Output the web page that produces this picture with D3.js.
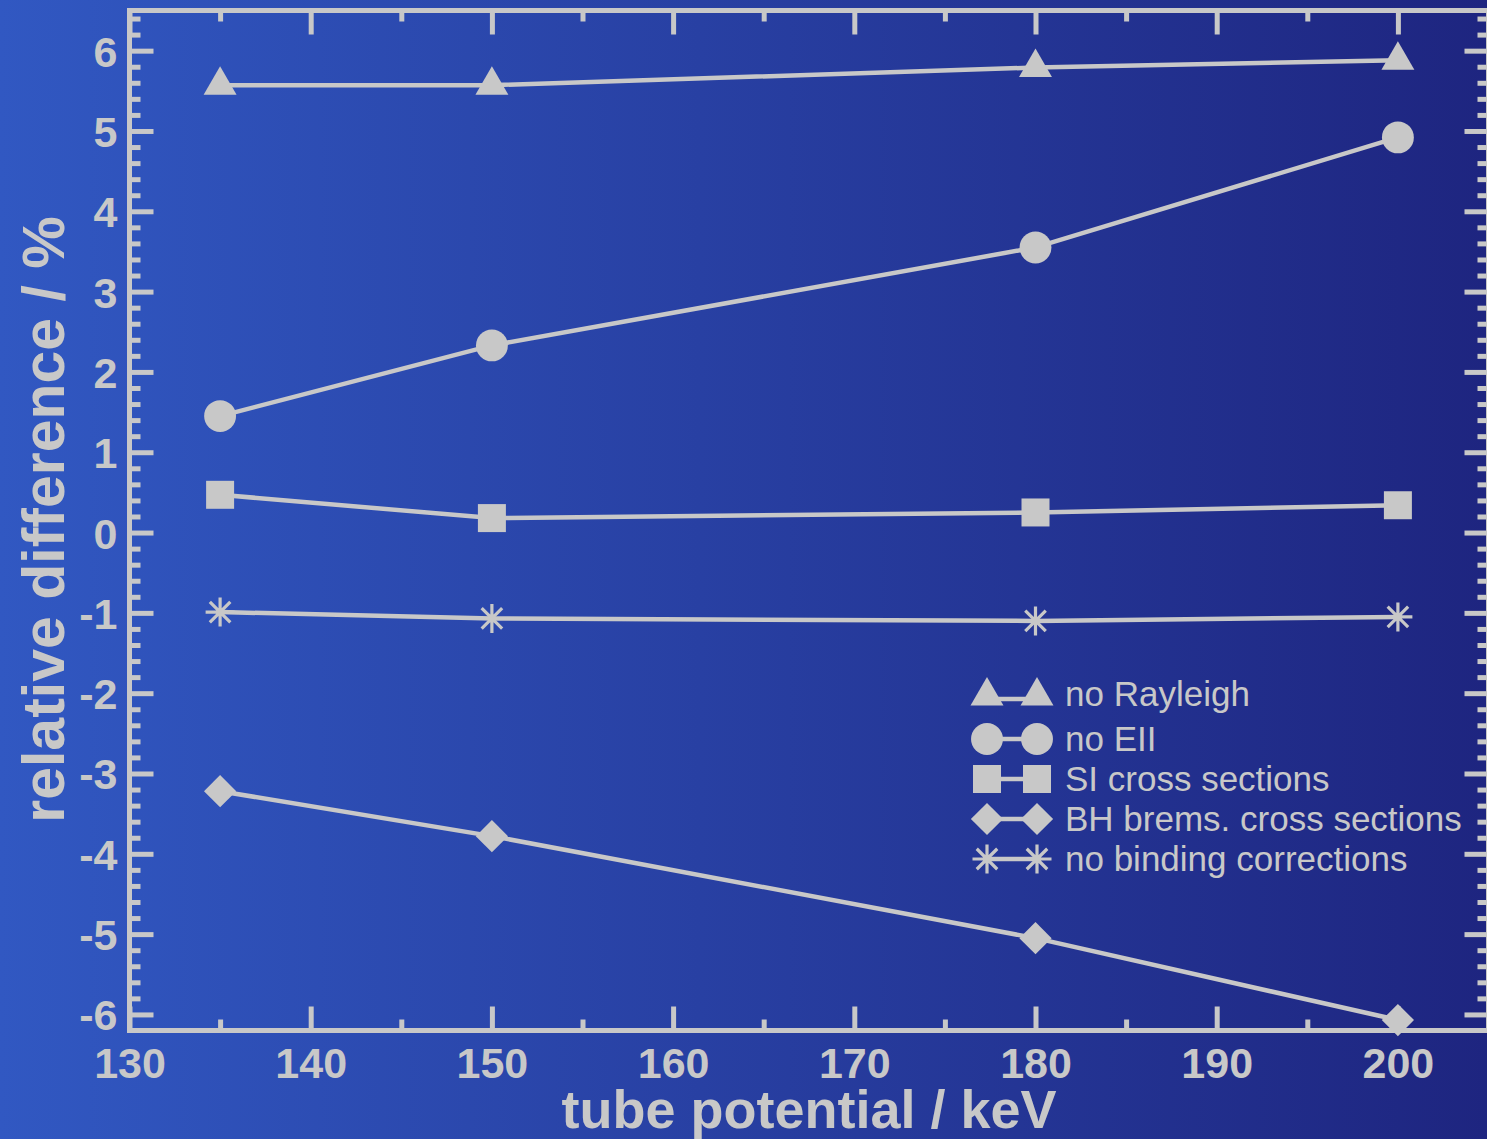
<!DOCTYPE html>
<html>
<head>
<meta charset="utf-8">
<script src="https://cdn.jsdelivr.net/npm/d3@7"></script>
<style>
  html, body { margin: 0; padding: 0; overflow: hidden; }
  svg { display: block; }
</style>
</head>
<body>
<svg id="chart" width="1487" height="1139"></svg>
<script>
// Tube potentials (keV)
const potentials = [135, 150, 180, 200];

// Relative difference (%) for each modification of the simulation
const noRayleigh      = [5.57, 5.57, 5.79, 5.88];
const noEII           = [1.45, 2.33, 3.55, 4.92];
const siCross         = [0.47, 0.18, 0.25, 0.34];
const bhBrems         = [-3.22, -3.78, -5.05, -6.07];
const noBinding       = [-0.99, -1.07, -1.10, -1.05];

const seriesNames  = ["no Rayleigh", "no EII", "SI cross sections", "BH brems. cross sections", "no binding corrections"];
const seriesValues = [noRayleigh, noEII, siCross, bhBrems, noBinding];
const seriesMarks  = ["triangle", "circle", "square", "diamond", "asterisk"];

const xTicks = [130, 140, 150, 160, 170, 180, 190, 200];
const yTicks = [-6, -5, -4, -3, -2, -1, 0, 1, 2, 3, 4, 5, 6];

const xTitle = "tube potential / keV";
const yTitle = "relative difference / %";

const W = 1487, H = 1139;
const fg = "#c8c8c8";

const svg = d3.select("#chart");

// background gradient
const defs = svg.append("defs");
const grad = defs.append("linearGradient").attr("id", "bg")
  .attr("x1", "0%").attr("y1", "0%").attr("x2", "100%").attr("y2", "0%");
grad.append("stop").attr("offset", "0%").attr("stop-color", "#3158c2");
grad.append("stop").attr("offset", "100%").attr("stop-color", "#1e2580");
svg.append("rect").attr("width", W).attr("height", H).attr("fill", "url(#bg)");

const x = d3.scaleLinear().domain([130, 205]).range([129.5, 1488.5]);
const y = d3.scaleLinear().domain([-6.2, 6.5]).range([1030.5, 10.5]);

const font = "'Liberation Sans', Arial, Helvetica, sans-serif";
const plainNum = d => String(d);

function styleAxis(g) {
  g.select(".domain").remove();
  g.selectAll("line").attr("stroke", fg).attr("stroke-width", 5);
  g.selectAll("text").attr("fill", fg).attr("font-family", font)
    .attr("font-weight", "bold").attr("font-size", 43);
}

const xMinor = d3.range(135, 205, 10);
const yMinor = d3.range(-6.0, 6.45, 0.2).map(v => Math.round(v * 10) / 10)
  .filter(v => Math.abs(v - Math.round(v)) > 1e-6);

// bottom axis
svg.append("g").attr("transform", `translate(0,${y(-6.2)})`)
  .call(d3.axisBottom(x).tickValues(xTicks).tickSize(-24).tickSizeOuter(0).tickPadding(17).tickFormat(plainNum))
  .call(styleAxis);
svg.append("g").attr("transform", `translate(0,${y(-6.2)})`)
  .call(d3.axisBottom(x).tickValues(xMinor).tickSize(-11).tickSizeOuter(0).tickFormat(""))
  .call(styleAxis);
// top axis
svg.append("g").attr("transform", `translate(0,${y(6.5)})`)
  .call(d3.axisTop(x).tickValues(xTicks).tickSize(-24).tickSizeOuter(0).tickFormat(""))
  .call(styleAxis);
svg.append("g").attr("transform", `translate(0,${y(6.5)})`)
  .call(d3.axisTop(x).tickValues(xMinor).tickSize(-11).tickSizeOuter(0).tickFormat(""))
  .call(styleAxis);
// left axis
svg.append("g").attr("transform", `translate(${x(130)},0)`)
  .call(d3.axisLeft(y).tickValues(yTicks).tickSize(-24).tickSizeOuter(0).tickPadding(12).tickFormat(plainNum))
  .call(styleAxis)
  .call(g => g.selectAll("text").attr("dy", "0.36em"));
svg.append("g").attr("transform", `translate(${x(130)},0)`)
  .call(d3.axisLeft(y).tickValues(yMinor).tickSize(-11).tickSizeOuter(0).tickFormat(""))
  .call(styleAxis);
// right axis
svg.append("g").attr("transform", `translate(${x(205)},0)`)
  .call(d3.axisRight(y).tickValues(yTicks).tickSize(-24).tickSizeOuter(0).tickFormat(""))
  .call(styleAxis);
svg.append("g").attr("transform", `translate(${x(205)},0)`)
  .call(d3.axisRight(y).tickValues(yMinor).tickSize(-11).tickSizeOuter(0).tickFormat(""))
  .call(styleAxis);

// frame
svg.append("rect")
  .attr("x", x(130)).attr("y", y(6.5))
  .attr("width", x(205) - x(130)).attr("height", y(-6.2) - y(6.5))
  .attr("fill", "none").attr("stroke", fg).attr("stroke-width", 5);

// axis titles
svg.append("text")
  .attr("x", (x(130) + x(205)) / 2).attr("y", 1128)
  .attr("text-anchor", "middle").attr("fill", fg)
  .attr("font-family", font).attr("font-weight", "bold").attr("font-size", 54)
  .text(xTitle);
svg.append("text")
  .attr("transform", `translate(64,${(y(6.5) + y(-6.2)) / 2 - 1}) rotate(-90)`)
  .attr("text-anchor", "middle").attr("fill", fg)
  .attr("font-family", font).attr("font-weight", "bold").attr("font-size", 59)
  .text(yTitle);

// marker shapes
function asteriskPath(r) {
  const p = d3.path();
  const d = r * Math.SQRT1_2;
  p.moveTo(0, -r); p.lineTo(0, r);
  p.moveTo(-r, 0); p.lineTo(r, 0);
  p.moveTo(-d, -d); p.lineTo(d, d);
  p.moveTo(-d, d); p.lineTo(d, -d);
  return p.toString();
}
function drawMarker(sel, kind) {
  if (kind === "triangle") {
    sel.append("path").attr("d", d3.symbol(d3.symbolTriangle, 470)()).attr("fill", fg);
  } else if (kind === "circle") {
    sel.append("path").attr("d", d3.symbol(d3.symbolCircle, 800)()).attr("fill", fg);
  } else if (kind === "square") {
    sel.append("path").attr("d", d3.symbol(d3.symbolSquare, 784)()).attr("fill", fg);
  } else if (kind === "diamond") {
    sel.append("path").attr("d", d3.symbol(d3.symbolSquare, 520)()).attr("transform", "rotate(45)").attr("fill", fg);
  } else {
    sel.append("path").attr("d", asteriskPath(14.5)).attr("fill", "none")
      .attr("stroke", fg).attr("stroke-width", 3.2);
  }
}

// series lines and markers
const line = d3.line().x((d, i) => x(potentials[i])).y(d => y(d));
seriesValues.forEach((vals, s) => {
  const g = svg.append("g");
  g.append("path").attr("d", line(vals)).attr("fill", "none")
    .attr("stroke", fg).attr("stroke-width", 4.5);
  vals.forEach((v, i) => {
    const m = g.append("g").attr("transform", `translate(${x(potentials[i])},${y(v)})`);
    drawMarker(m, seriesMarks[s]);
  });
});

// legend
const legRows = [696, 739, 779, 819, 859];
const leg = svg.append("g");
seriesNames.forEach((name, s) => {
  const ry = legRows[s];
  const row = leg.append("g").attr("transform", `translate(0,${ry})`);
  row.append("line").attr("x1", 987).attr("x2", 1037).attr("y1", s === 0 ? 3 : 0).attr("y2", s === 0 ? 3 : 0)
    .attr("stroke", fg).attr("stroke-width", 4.5);
  [987, 1037].forEach(mx => {
    const m = row.append("g").attr("transform", `translate(${mx},0)`);
    drawMarker(m, seriesMarks[s]);
  });
  row.append("text").attr("x", 1065).attr("y", s === 0 ? 10 : 12)
    .attr("fill", fg).attr("font-family", font).attr("font-size", 35)
    .text(name);
});
</script>
</body>
</html>
